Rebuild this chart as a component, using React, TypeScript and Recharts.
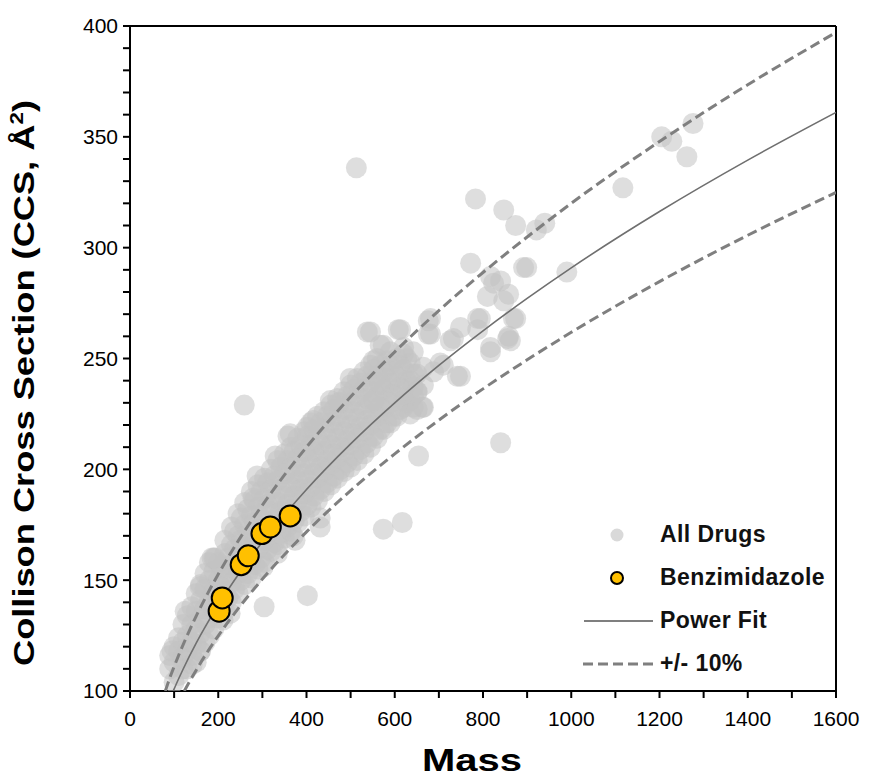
import React from 'react';
import {
  ComposedChart,
  Scatter,
  Line,
  XAxis,
  YAxis,
  ReferenceLine,
  Legend,
} from 'recharts';

// [mass, CCS]
const allDrugs: number[][] = [
  [90, 110], [90, 116], [100, 104], [100, 113], [100, 120], [110, 107], [110, 118], [110, 124],
  [120, 110], [120, 115], [120, 122], [120, 130], [130, 110], [130, 118], [130, 125], [130, 134],
  [140, 116], [140, 122], [140, 130], [140, 138], [150, 113], [150, 121], [150, 128], [150, 136], [150, 144],
  [160, 118], [160, 126], [160, 133], [160, 141], [160, 148], [170, 122], [170, 130], [170, 137], [170, 146], [170, 153],
  [180, 125], [180, 133], [180, 141], [180, 150], [180, 158], [190, 128], [190, 137], [190, 145], [190, 154], [190, 160],
  [200, 133], [200, 141], [200, 150], [200, 158], [215, 136], [215, 145], [215, 153], [215, 162], [215, 168],
  [230, 140], [230, 149], [230, 157], [230, 166], [230, 174], [245, 144], [245, 153], [245, 161], [245, 170], [245, 180],
  [260, 148], [260, 157], [260, 165], [260, 175], [260, 185], [275, 151], [275, 160], [275, 169], [275, 179], [275, 190],
  [290, 155], [290, 164], [290, 173], [290, 183], [290, 193], [305, 158], [305, 168], [305, 177], [305, 187], [305, 196],
  [320, 163], [320, 172], [320, 181], [320, 191], [320, 200], [335, 166], [335, 175], [335, 185], [335, 195], [335, 204],
  [350, 169], [350, 179], [350, 188], [350, 198], [350, 207], [365, 172], [365, 182], [365, 192], [365, 201], [365, 210],
  [380, 176], [380, 186], [380, 195], [380, 205], [380, 214], [395, 179], [395, 189], [395, 198], [395, 208], [395, 217],
  [410, 183], [410, 192], [410, 202], [410, 211], [410, 221], [425, 186], [425, 196], [425, 205], [425, 214], [425, 224],
  [440, 190], [440, 199], [440, 208], [440, 218], [440, 226], [455, 193], [455, 202], [455, 211], [455, 221], [455, 229],
  [470, 196], [470, 205], [470, 214], [470, 224], [470, 232], [485, 199], [485, 208], [485, 217], [485, 227], [485, 235],
  [500, 201], [500, 211], [500, 220], [500, 230], [500, 238], [515, 204], [515, 214], [515, 223], [515, 233], [515, 241],
  [530, 207], [530, 217], [530, 227], [530, 236], [530, 244], [545, 210], [545, 220], [545, 230], [545, 239], [545, 247],
  [560, 214], [560, 224], [560, 233], [560, 242], [560, 250], [575, 218], [575, 227], [575, 236], [575, 244],
  [590, 221], [590, 230], [590, 239], [590, 247], [590, 253], [605, 224], [605, 233], [605, 242], [605, 250],
  [620, 228], [620, 236], [620, 245], [620, 252], [635, 231], [635, 240], [635, 248], [650, 235], [650, 243], [665, 238], [665, 246],
  // in-between rows of the dense band
  [207, 139], [207, 147], [207, 156], [222, 142], [222, 151], [222, 160], [237, 146], [237, 155], [237, 164], [237, 172],
  [252, 150], [252, 160], [252, 168], [252, 178], [267, 153], [267, 163], [267, 172], [267, 182],
  [282, 157], [282, 167], [282, 176], [282, 186], [297, 160], [297, 170], [297, 180], [297, 190],
  [312, 164], [312, 174], [312, 184], [312, 194], [327, 167], [327, 177], [327, 187], [327, 197],
  [342, 171], [342, 181], [342, 191], [342, 201], [357, 174], [357, 184], [357, 194], [357, 204],
  [372, 177], [372, 188], [372, 198], [372, 208], [387, 181], [387, 191], [387, 201], [387, 211],
  [402, 184], [402, 195], [402, 205], [402, 215], [417, 188], [417, 198], [417, 208], [417, 218],
  [432, 191], [432, 201], [432, 211], [432, 221], [447, 194], [447, 204], [447, 214], [447, 224],
  [462, 197], [462, 207], [462, 217], [462, 227], [477, 200], [477, 210], [477, 220], [477, 230],
  [492, 203], [492, 213], [492, 223], [492, 233], [507, 206], [507, 216], [507, 226], [507, 236],
  [522, 209], [522, 219], [522, 229], [522, 239], [537, 212], [537, 222], [537, 232], [537, 242],
  [552, 215], [552, 225], [552, 235], [552, 245], [567, 218], [567, 228], [567, 238], [567, 247],
  [582, 221], [582, 231], [582, 241], [582, 249], [597, 224], [597, 234], [597, 244],
  [612, 227], [612, 237], [612, 247], [627, 230], [627, 240], [627, 250], [642, 233], [642, 243],
  // edges and outliers
  [95, 118], [125, 136], [159, 147], [186, 160], [193, 160], [279, 187], [288, 197], [329, 206], [358, 215], [402, 219],
  [454, 231], [499, 241], [141, 112], [159, 118], [211, 132], [227, 135], [302, 156], [334, 162], [370, 170], [374, 168],
  [431, 178], [431, 174], [472, 230], [415, 222], [363, 216], [538, 262], [608, 263], [676, 267], [676, 261], [567, 256],
  [733, 259], [794, 268], [817, 255], [858, 260], [749, 242], [688, 244], [710, 247], [642, 237], [642, 228], [665, 228],
  [620, 231], [552, 231], [567, 239], [545, 262], [613, 263], [574, 256], [552, 249], [642, 253], [703, 248], [742, 242],
  [663, 228], [635, 225], [651, 227], [651, 235], [620, 255], [681, 268], [681, 261], [726, 258], [788, 263],
  [1205, 350], [1228, 348], [1276, 356], [1262, 341], [1117, 327], [783, 322], [847, 317], [874, 310], [921, 308], [940, 311],
  [772, 293], [892, 291], [899, 291], [990, 289], [817, 287], [824, 284], [840, 285], [858, 279], [810, 278], [847, 276],
  [869, 268], [788, 268], [749, 264], [856, 259], [817, 253], [874, 268], [862, 258],
  [259, 229], [513, 336], [402, 143], [304, 138], [574, 173], [617, 176], [840, 212], [654, 206],
];

const benzimidazole: number[][] = [
  [202, 136], [209, 142], [252, 157], [268, 161], [299, 171], [318, 174], [363, 179],
];

// power fit and +/- 10 % band, sampled from the plotted curves
const fitMass = [98, 110, 120, 150, 175, 200, 250, 300, 400, 500, 600, 700, 800, 900, 1000, 1200, 1400, 1600];
const fitCcs = [100, 105.4, 109.7, 121.6, 130.5, 138.8, 153.8, 167.2, 190.9, 211.5, 230.0, 246.9, 262.5, 277.1, 290.9, 316.3, 339.5, 361.0];
const upperMass = [80, 90, 100, 125, 150, 175, 200, 250, 300, 400, 500, 600, 700, 800, 900, 1000, 1200, 1400, 1600];
const upperCcs = [100, 105.8, 111.0, 123.0, 133.8, 143.6, 152.7, 169.2, 183.9, 210.0, 232.7, 253.0, 271.6, 288.8, 304.8, 320.0, 347.9, 373.5, 397.1];
const lowerMass = [123, 135, 150, 175, 200, 250, 300, 400, 500, 600, 700, 800, 900, 1000, 1200, 1400, 1600];
const lowerCcs = [100, 104.3, 109.4, 117.5, 124.9, 138.4, 150.5, 171.8, 190.4, 207.0, 222.2, 236.3, 249.4, 261.8, 284.7, 305.6, 324.9];

const xTicks = [0, 100, 200, 300, 400, 500, 600, 700, 800, 900, 1000, 1100, 1200, 1300, 1400, 1500, 1600];
const yTicks = [100, 110, 120, 130, 140, 150, 160, 170, 180, 190, 200, 210, 220, 230, 240, 250, 260, 270, 280, 290,
  300, 310, 320, 330, 340, 350, 360, 370, 380, 390, 400];

const toPoints = (rows: number[][]) => rows.map(([x, y]) => ({ x, y }));
const toCurve = (xs: number[], ys: number[]) => xs.map((x, i) => ({ x, y: ys[i] }));

const FONT = '"Liberation Sans", Arial, sans-serif';
const GREY_LINE = '#7f7f7f';

const greyDot = (props: any) => (
  <circle cx={props.cx} cy={props.cy} r={10.5} fill="#c2c2c2" fillOpacity={0.55} />
);
const orangeDot = (props: any) => (
  <circle cx={props.cx} cy={props.cy} r={10.5} fill="#FFC000" stroke="#000" strokeWidth={2} />
);

const legendItems = [
  { key: 'dots', label: 'All Drugs' },
  { key: 'benz', label: 'Benzimidazole' },
  { key: 'fit', label: 'Power Fit' },
  { key: 'band', label: '+/- 10%' },
];

function renderLegend() {
  return (
    <div style={{ fontFamily: FONT, fontWeight: 700, fontSize: 23, letterSpacing: 0.4, color: '#111' }}>
      {legendItems.map((item) => (
        <div key={item.key} style={{ display: 'flex', alignItems: 'center', height: 43 }}>
          <svg width={80} height={20} style={{ marginRight: 5 }}>
            {item.key === 'dots' && <circle cx={42} cy={10} r={6.5} fill="#d9d9d9" />}
            {item.key === 'benz' && <circle cx={42} cy={10} r={6} fill="#FFC000" stroke="#000" strokeWidth={2} />}
            {item.key === 'fit' && <line x1={9} x2={78} y1={10} y2={10} stroke={GREY_LINE} strokeWidth={2} />}
            {item.key === 'band' && (
              <line x1={8} x2={78} y1={10} y2={10} stroke={GREY_LINE} strokeWidth={3} strokeDasharray="10 5" />
            )}
          </svg>
          <span>{item.label}</span>
        </div>
      ))}
    </div>
  );
}

export default function App() {
  const lineProps: any = { zIndex: 650 };
  const topProps: any = { zIndex: 700 };
  return (
    <div>
      <style>{'body{margin:0;background:#fff}'}</style>
      <ComposedChart width={873} height={778} margin={{ top: 26, right: 37, left: 0, bottom: 0 }}>
        <XAxis
          type="number"
          dataKey="x"
          domain={[0, 1600]}
          ticks={xTicks}
          interval={0}
          tickFormatter={(v: number) => (v % 200 === 0 ? String(v) : '')}
          height={87}
          tickSize={7}
          tickMargin={13}
          axisLine={{ stroke: '#000', strokeWidth: 2 }}
          tickLine={{ stroke: '#000', strokeWidth: 2 }}
          tick={{ fill: '#000', fontSize: 21, fontFamily: FONT }}
          allowDataOverflow
          label={{
            content: () => (
              <text
                x={472}
                y={771}
                textAnchor="middle"
                fontFamily={FONT}
                fontWeight={700}
                fontSize={31}
                textLength={100}
                lengthAdjust="spacingAndGlyphs"
                fill="#000"
              >
                Mass
              </text>
            ),
          }}
        />
        <YAxis
          type="number"
          dataKey="y"
          domain={[100, 400]}
          ticks={yTicks}
          interval={0}
          tickFormatter={(v: number) => (v % 50 === 0 ? String(v) : '')}
          width={130}
          tickSize={7}
          tickMargin={5}
          axisLine={{ stroke: '#000', strokeWidth: 2 }}
          tickLine={{ stroke: '#000', strokeWidth: 2 }}
          tick={{ fill: '#000', fontSize: 21, fontFamily: FONT }}
          allowDataOverflow
          label={{
            content: () => (
              <text
                transform="translate(34,383) rotate(-90)"
                textAnchor="middle"
                fontFamily={FONT}
                fontWeight={700}
                fontSize={29}
                textLength={566}
                lengthAdjust="spacingAndGlyphs"
                fill="#000"
              >
                Collison Cross Section (CCS, Å<tspan dy={-11} fontSize={18}>2</tspan>
                <tspan dy={11}>)</tspan>
              </text>
            ),
          }}
        />
        <ReferenceLine y={400} stroke="#000" strokeWidth={2} />
        <ReferenceLine x={1600} stroke="#000" strokeWidth={2} />
        <Scatter name="All Drugs" data={toPoints(allDrugs)} shape={greyDot} isAnimationActive={false} />
        <Line
          {...lineProps}
          data={toCurve(upperMass, upperCcs)}
          dataKey="y"
          type="monotone"
          stroke={GREY_LINE}
          strokeWidth={3}
          strokeDasharray="10 5"
          dot={false}
          activeDot={false}
          isAnimationActive={false}
        />
        <Line
          {...lineProps}
          data={toCurve(lowerMass, lowerCcs)}
          dataKey="y"
          type="monotone"
          stroke={GREY_LINE}
          strokeWidth={3}
          strokeDasharray="10 5"
          dot={false}
          activeDot={false}
          isAnimationActive={false}
        />
        <Line
          {...lineProps}
          data={toCurve(fitMass, fitCcs)}
          dataKey="y"
          type="monotone"
          stroke="#6f6f6f"
          strokeWidth={1.6}
          dot={false}
          activeDot={false}
          isAnimationActive={false}
        />
        <Scatter
          {...topProps}
          name="Benzimidazole"
          data={toPoints(benzimidazole)}
          shape={orangeDot}
          isAnimationActive={false}
        />
        <Legend
          layout="vertical"
          align="center"
          verticalAlign="middle"
          content={renderLegend}
          wrapperStyle={{ position: 'absolute', left: 575, top: 513, width: 290 }}
        />
      </ComposedChart>
    </div>
  );
}
